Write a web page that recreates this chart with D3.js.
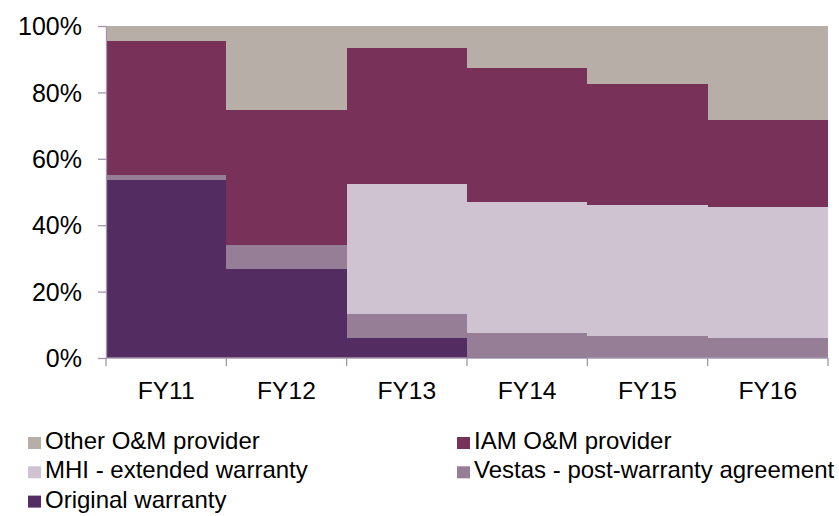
<!DOCTYPE html>
<html>

<head>
    <meta charset="UTF-8">
    <title>O&M share</title>
    <style>
        body {
            margin: 0;
            background: #fff;
        }

        svg text {
            font-family: "Liberation Sans", Arial, sans-serif;
            fill: #000;
        }

        .axis path,
        .axis line {
            stroke: #a396ab;
            stroke-width: 1.3px;
        }

        .bar rect {
            shape-rendering: crispEdges;
        }
    </style>
</head>

<body>
    <div class="chart"></div>

    <script src="https://cdn.jsdelivr.net/npm/d3@7"></script>

    <script>
        // categories
        const years = ['FY11', 'FY12', 'FY13', 'FY14', 'FY15', 'FY16'];

        // series values (% of capacity), bottom to top
        const originalWarranty = [53.5, 26.8, 6.0, 0.3, 0, 0];
        const vestasPostWarranty = [1.7, 7.2, 7.2, 7.3, 6.6, 6.1];
        const mhiExtended = [0, 0, 39.3, 39.3, 39.5, 39.5];
        const iamProvider = [40.4, 40.7, 40.8, 40.5, 36.5, 26.1];
        const otherProvider = [4.4, 25.3, 6.7, 12.6, 17.4, 28.3];

        const yTicks = [0, 20, 40, 60, 80, 100];

        const seriesNames = ['Original warranty', 'Vestas - post-warranty agreement',
            'MHI - extended warranty', 'IAM O&M provider', 'Other O&M provider'];
        const seriesValues = [originalWarranty, vestasPostWarranty, mhiExtended, iamProvider, otherProvider];
        const colors = ['#532d62', '#977e97', '#cfc3d1', '#78325a', '#b8aea8'];

        // legend order as laid out in two columns
        const legendOrder = ['Other O&M provider', 'IAM O&M provider', 'MHI - extended warranty',
            'Vestas - post-warranty agreement', 'Original warranty'];

        const table = years.map((y, i) => {
            const row = { year: y };
            seriesNames.forEach((s, j) => row[s] = seriesValues[j][i]);
            return row;
        });

        const W = 839, H = 516;
        const margin = { top: 26, right: 11, bottom: 158, left: 106 };

        const svg = d3.select('.chart')
            .append('svg')
            .attr('width', W)
            .attr('height', H);

        const x = d3.scaleBand()
            .domain(years)
            .range([margin.left, W - margin.right])
            .padding(0);

        const y = d3.scaleLinear()
            .domain([0, 100])
            .range([H - margin.bottom, margin.top]);

        const color = d3.scaleOrdinal()
            .domain(seriesNames)
            .range(colors);

        const stacked = d3.stack().keys(seriesNames)(table);

        svg.append('g')
            .selectAll('g')
            .data(stacked)
            .enter()
            .append('g')
            .attr('class', 'bar')
            .attr('fill', d => color(d.key))
            .selectAll('rect')
            .data(d => d)
            .enter()
            .append('rect')
            .attr('x', d => x(d.data.year))
            .attr('width', x.bandwidth())
            .attr('y', d => y(d[1]))
            .attr('height', d => y(d[0]) - y(d[1]));

        // y axis
        const yAxis = svg.append('g')
            .attr('class', 'axis y-axis')
            .attr('transform', `translate(${ margin.left },0)`)
            .call(d3.axisLeft(y)
                .tickValues(yTicks)
                .tickSize(8)
                .tickSizeOuter(0)
                .tickPadding(16)
                .tickFormat(d => d + '%'));

        yAxis.selectAll('text')
            .style('font-size', '25px')
            .attr('dy', '0.35em');

        // x axis: ticks at category boundaries
        const bounds = years.map(d => x(d)).concat([x(years[years.length - 1]) + x.bandwidth()]);

        const xAxis = svg.append('g')
            .attr('class', 'axis x-axis')
            .attr('transform', `translate(0,${ y(0) })`);

        xAxis.append('line')
            .attr('x1', x.range()[0])
            .attr('x2', x.range()[1]);

        xAxis.selectAll('.tick')
            .data(bounds)
            .enter()
            .append('line')
            .attr('x1', d => d)
            .attr('x2', d => d)
            .attr('y1', 0)
            .attr('y2', 8);

        xAxis.selectAll('.label')
            .data(years)
            .enter()
            .append('text')
            .attr('class', 'label')
            .attr('x', d => x(d) + x.bandwidth() / 2)
            .attr('y', 41)
            .attr('text-anchor', 'middle')
            .style('font-size', '24.6px')
            .text(d => d);

        // legend
        const legend = svg.append('g')
            .attr('class', 'legend');

        const item = legend.selectAll('g')
            .data(legendOrder)
            .enter()
            .append('g')
            .attr('transform', (d, i) => `translate(${ i % 2 === 0 ? 28 : 457 },${ 449 + Math.floor(i / 2) * 29.3 })`);

        item.append('rect')
            .attr('x', 0)
            .attr('y', -12)
            .attr('width', 13)
            .attr('height', 12)
            .attr('fill', d => color(d));

        item.append('text')
            .attr('x', 17)
            .attr('y', 0)
            .style('font-size', '24px')
            .text(d => d);
    </script>
</body>

</html>
